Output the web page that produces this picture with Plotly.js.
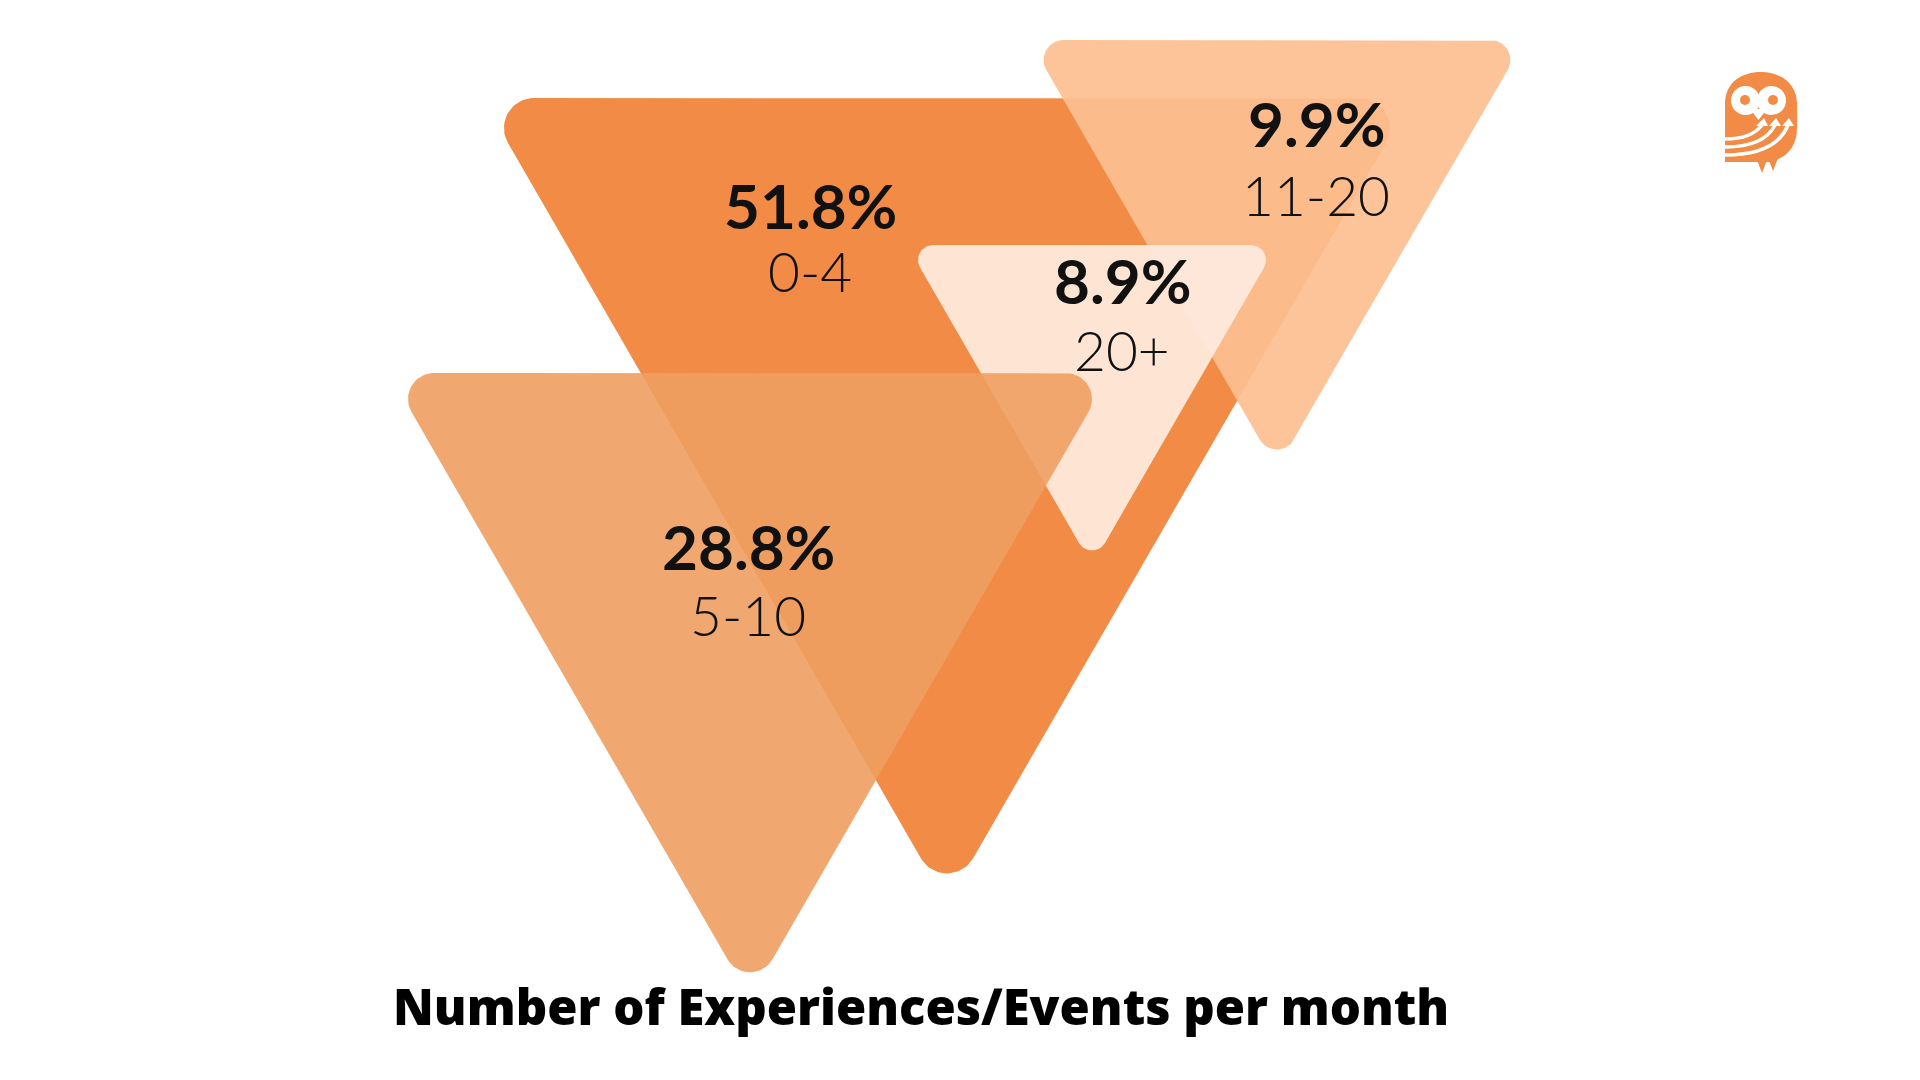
<!DOCTYPE html>
<html><head><meta charset="utf-8">
<script src="https://cdn.plot.ly/plotly-3.0.1.min.js"></script>
<style>html,body{margin:0;padding:0;background:#fff;overflow:hidden;}#chart{width:1920px;height:1080px;}</style>
</head><body><div id="chart"></div>
<script>
// ---- data ----
const categories = ['0-4', '5-10', '11-20', '20+'];
const shares = [51.8, 28.8, 9.9, 8.9];
const chartTitle = 'Number of Experiences/Events per month';

// ---- layout geometry (pixel frame 1920x1080), kept apart from the data ----
const geometry = {
  '0-4':   {cx: 947,  top: 98,  hw: 465, r: 30, fill: 'rgb(242,139,69)',        tx: 810,  pctY: 205, catY: 271},
  '5-10':  {cx: 750,  top: 373, hw: 361, r: 26, fill: 'rgba(238,158,96,0.9)',   tx: 748,  pctY: 546, catY: 615},
  '11-20': {cx: 1277, top: 40,  hw: 248, r: 20, fill: 'rgba(253,191,145,0.92)', tx: 1316, pctY: 123, catY: 195},
  '20+':   {cx: 1092, top: 245, hw: 185, r: 15, fill: 'rgba(254,235,222,0.93)', tx: 1122, pctY: 280, catY: 350}
};
const drawOrder = ['0-4', '11-20', '20+', '5-10'];
const FONT = 'Lato, "Open Sans", sans-serif';
const TITLE_FONT = '"Open Sans", Lato, sans-serif';

function unit(v){ const l = Math.hypot(v[0], v[1]); return [v[0]/l, v[1]/l]; }
function roundedTriangle(g){
  const h = g.hw * Math.sqrt(3);
  const V = [[g.cx - g.hw, g.top], [g.cx + g.hw, g.top], [g.cx, g.top + h]];
  const xs = [], ys = [];
  const d = g.r / Math.tan(Math.PI / 6);
  for (let i = 0; i < 3; i++){
    const v = V[i], p = V[(i + 2) % 3], n = V[(i + 1) % 3];
    const u1 = unit([p[0]-v[0], p[1]-v[1]]), u2 = unit([n[0]-v[0], n[1]-v[1]]);
    const t1 = [v[0] + u1[0]*d, v[1] + u1[1]*d];
    const t2 = [v[0] + u2[0]*d, v[1] + u2[1]*d];
    const b = unit([u1[0]+u2[0], u1[1]+u2[1]]);
    const c = [v[0] + b[0]*2*g.r, v[1] + b[1]*2*g.r];
    const a1 = Math.atan2(t1[1]-c[1], t1[0]-c[0]);
    let da = Math.atan2(t2[1]-c[1], t2[0]-c[0]) - a1;
    while (da > Math.PI) da -= 2*Math.PI;
    while (da < -Math.PI) da += 2*Math.PI;
    const N = 24;
    for (let k = 0; k <= N; k++){
      const a = a1 + da * k / N;
      xs.push(c[0] + g.r*Math.cos(a)); ys.push(c[1] + g.r*Math.sin(a));
    }
  }
  xs.push(xs[0]); ys.push(ys[0]);
  return {xs, ys};
}

const traces = drawOrder.map(cat => {
  const g = geometry[cat];
  const t = roundedTriangle(g);
  return {type: 'scatter', mode: 'lines', x: t.xs, y: t.ys, fill: 'toself',
    fillcolor: g.fill, line: {width: 0, color: 'rgba(0,0,0,0)'}, hoverinfo: 'skip', name: cat};
});

const annotations = [];
categories.forEach((cat, i) => {
  const g = geometry[cat];
  annotations.push({x: g.tx, y: g.pctY, xref: 'x', yref: 'y', showarrow: false,
    text: shares[i].toFixed(1) + '%', xanchor: 'center', yanchor: 'middle',
    font: {family: FONT, size: 62, color: '#111111', weight: 700}});
  annotations.push({x: g.tx, y: g.catY, xref: 'x', yref: 'y', showarrow: false,
    text: cat, xanchor: 'center', yanchor: 'middle',
    font: {family: FONT, size: 55, color: '#111111', weight: 300}});
});
annotations.push({x: 921, y: 1006, xref: 'x', yref: 'y', showarrow: false, text: chartTitle,
  xanchor: 'center', yanchor: 'middle', font: {family: TITLE_FONT, size: 49, color: '#000000', weight: 800}});

// owl logo (decoration)
const OR = 'rgb(242,139,69)';
const shapes = [
  {type: 'path', xref: 'x', yref: 'y', fillcolor: OR, line: {width: 0},
   path: 'M1725,162 L1725,104 C1725,82 1742,72 1761,72 C1781,72 1797,84 1797,104 L1797,128 C1797,146 1787,158 1770,162 Z'},
  {type: 'path', xref: 'x', yref: 'y', fillcolor: OR, line: {width: 0}, path: 'M1757,160 L1767,160 L1762,173 Z'},
  {type: 'path', xref: 'x', yref: 'y', fillcolor: OR, line: {width: 0}, path: 'M1768,158 L1778,158 L1773,171 Z'},
  {type: 'circle', xref: 'x', yref: 'y', x0: 1731, x1: 1760, y0: 86, y1: 115, fillcolor: '#ffffff', line: {width: 0}},
  {type: 'circle', xref: 'x', yref: 'y', x0: 1757, x1: 1786, y0: 86, y1: 115, fillcolor: '#ffffff', line: {width: 0}},
  {type: 'path', xref: 'x', yref: 'y', fillcolor: '#ffffff', line: {width: 0}, path: 'M1750,109 L1767,109 L1758.5,120 Z'},
  {type: 'circle', xref: 'x', yref: 'y', x0: 1740, x1: 1750, y0: 95, y1: 105, fillcolor: OR, line: {width: 0}},
  {type: 'circle', xref: 'x', yref: 'y', x0: 1768, x1: 1778, y0: 95, y1: 105, fillcolor: OR, line: {width: 0}},
  {type: 'path', xref: 'x', yref: 'y', line: {width: 3.5, color: '#ffffff'}, path: 'M1725,139 C1745,139 1756,133 1762,125'},
  {type: 'path', xref: 'x', yref: 'y', line: {width: 3.5, color: '#ffffff'}, path: 'M1725,147 C1752,147 1768,139 1775,125'},
  {type: 'path', xref: 'x', yref: 'y', line: {width: 3.5, color: '#ffffff'}, path: 'M1725,155 C1760,155 1780,145 1788,125'},
  {type: 'path', xref: 'x', yref: 'y', fillcolor: '#ffffff', line: {width: 0}, path: 'M1756,126 L1768,126 L1764,118 Z'},
  {type: 'path', xref: 'x', yref: 'y', fillcolor: '#ffffff', line: {width: 0}, path: 'M1769,126 L1781,126 L1776,118 Z'},
  {type: 'path', xref: 'x', yref: 'y', fillcolor: '#ffffff', line: {width: 0}, path: 'M1782,126 L1794,126 L1789,118 Z'}
];

const layout = {
  width: 1920, height: 1080, margin: {l: 0, r: 0, t: 0, b: 0, pad: 0},
  paper_bgcolor: '#ffffff', plot_bgcolor: '#ffffff', showlegend: false,
  xaxis: {range: [0, 1920], visible: false, fixedrange: true},
  yaxis: {range: [1080, 0], visible: false, fixedrange: true},
  annotations: annotations, shapes: shapes
};
Plotly.newPlot('chart', traces, layout, {displayModeBar: false, staticPlot: true});
</script></body></html>
